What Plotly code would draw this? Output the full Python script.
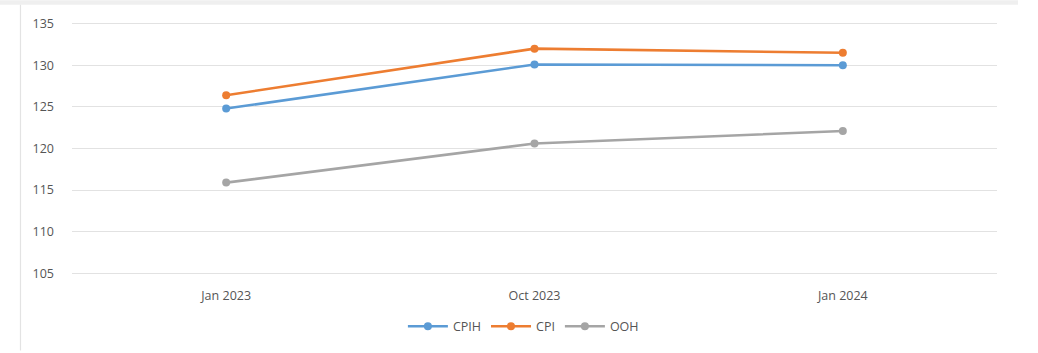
import plotly.graph_objects as go

# Index values by period
periods = ["Jan 2023", "Oct 2023", "Jan 2024"]
cpih = [124.8, 130.1, 130.0]
cpi = [126.4, 132.0, 131.5]
ooh = [115.9, 120.6, 122.1]

series = [
    ("CPIH", cpih, "#5b9bd5"),
    ("CPI", cpi, "#ed7d31"),
    ("OOH", ooh, "#a5a5a5"),
]

W, H = 1038, 353
L, R, T, B = 72, 41, 22, 76
pw, ph = W - L - R, H - T - B
TEXT = "#555555"


def px_x(v):
    return (v - L) / pw


def px_y(v):
    return (H - B - v) / ph


fig = go.Figure()
for name, vals, color in series:
    fig.add_trace(go.Scatter(
        x=periods, y=vals, name=name, mode="lines+markers",
        line=dict(color=color, width=2.6),
        marker=dict(color=color, size=8),
    ))

shapes = [
    # thin grey strip along the top edge
    dict(type="rect", xref="paper", yref="paper",
         x0=px_x(0), x1=px_x(1018), y0=px_y(0), y1=px_y(4.5),
         fillcolor="#efefef", line=dict(width=0), layer="below"),
    # chart area outline (left edge)
    dict(type="line", xref="paper", yref="paper",
         x0=px_x(20.5), x1=px_x(20.5), y0=px_y(4.5), y1=px_y(353),
         line=dict(color="#e3e3e3", width=1.2), layer="below"),
]

fig.update_layout(
    width=W, height=H,
    margin=dict(l=L, r=R, t=T, b=B),
    paper_bgcolor="white", plot_bgcolor="white",
    font=dict(family="Open Sans, Liberation Sans, sans-serif", size=12.5, color=TEXT),
    showlegend=True,
    legend=dict(orientation="h", x=0.488, xanchor="center", y=px_y(329), yanchor="middle",
                font=dict(size=12.5, color=TEXT), itemwidth=40, tracegroupgap=0),
    shapes=shapes,
    xaxis=dict(type="category", range=[-0.5, 2.5], showgrid=False, zeroline=False,
               showline=False, ticks="", tickfont=dict(size=12.5, color=TEXT),
               ticklabelstandoff=11, fixedrange=True),
    yaxis=dict(range=[104.8, 135.2], tickvals=[105, 110, 115, 120, 125, 130, 135],
               showgrid=True, gridcolor="#e2e2e2", gridwidth=1.2, zeroline=False,
               showline=False, ticks="", tickfont=dict(size=12.5, color=TEXT),
               ticklabelstandoff=17, fixedrange=True),
)

fig.write_html("out.html")
